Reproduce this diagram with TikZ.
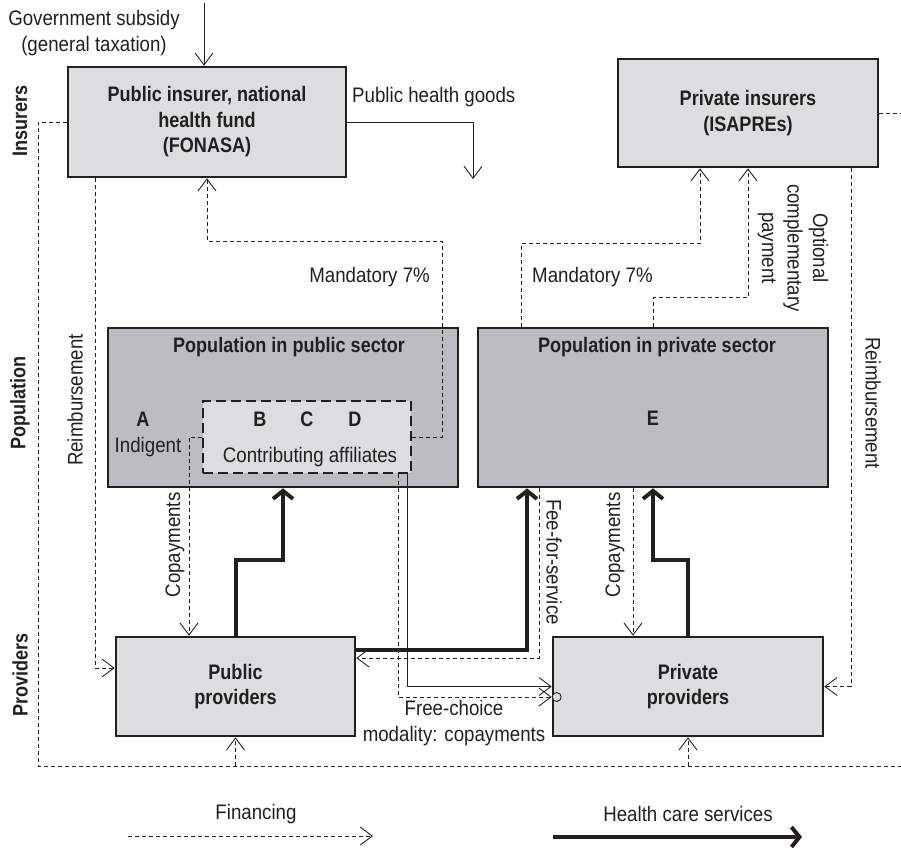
\documentclass[tikz,border=0pt]{standalone}
\usepackage{fontspec}
\setmainfont{Liberation Sans}[FakeStretch=0.89,BoldFeatures={FakeStretch=0.86}]
\usetikzlibrary{arrows.meta}
\definecolor{ink}{HTML}{231F20}
\definecolor{lightg}{HTML}{DCDDDF}
\definecolor{darkg}{HTML}{BCBDC0}
\newcommand\dfont{\fontsize{21pt}{25.5pt}\selectfont}
\begin{document}
\begin{tikzpicture}[x=1pt,y=-1pt,
  every node/.style={font=\dfont, text=ink, inner sep=0pt},
  box/.style={draw=ink, line width=2.6pt, fill=lightg, align=center, font=\dfont\bfseries},
  popbox/.style={box, fill=darkg},
  innerbox/.style={draw=ink, line width=2.6pt, fill=lightg, dash pattern=on 10pt off 5pt},
  fin/.style={draw=ink, line width=0.9pt, dash pattern=on 4pt off 3pt},
  finarr/.style={fin, -{Straight Barb[length=12pt,width=18pt,line width=0.9pt]}},
  thinarr/.style={draw=ink, line width=0.9pt, -{Straight Barb[length=12pt,width=18pt,line width=0.9pt]}},
  hcs/.style={draw=ink, line width=4pt, -{Straight Barb[length=8pt,width=20pt,line width=4pt]}},
  side/.style={rotate=90, font=\dfont\bfseries},
  bl/.style={font=\dfont\bfseries}]
\useasboundingbox (0,0) rectangle (901,847);

% boxes
\node[box, minimum width=278pt, minimum height=110pt] (pubins) at (207,122) {Public insurer, national\\health fund\\(FONASA)};
\node[box, minimum width=260pt, minimum height=108pt] (privins) at (748,113) {Private insurers\\(ISAPREs)};
\node[popbox, minimum width=350pt, minimum height=159pt] (poppub) at (283,407.5) {};
\node[popbox, minimum width=350pt, minimum height=159pt] (poppriv) at (653,407.5) {};
\node[innerbox, minimum width=208pt, minimum height=72pt] (inner) at (307,437) {};
\node[box, minimum width=239pt, minimum height=99pt] (pubprov) at (235.5,686.5) {Public\\providers};
\node[box, minimum width=270pt, minimum height=99pt] (privprov) at (688,686.5) {Private\\providers};

% texts inside population boxes
\node[bl] (poppubt) at (289,347) {Population in public sector};
\node[bl] (popprivt) at (657,347) {Population in private sector};
\node[bl] (la) at (143,419) {A};
\node (indig) at (148,447) {Indigent};
\node[bl] (lb) at (260,419) {B};
\node[bl] (lc) at (307,419) {C};
\node[bl] (ld) at (355,419) {D};
\node (contrib) at (310,457) {Contributing affiliates};
\node[bl] (le) at (653,418) {E};

% side labels
\node[side] (sins) at (20,121) {Insurers};
\node[side] (spop) at (20,403) {Population};
\node[side] (sprov) at (20,675) {Providers};

% other labels
\node[align=center] (gov) at (94,33) {Government subsidy\\(general taxation)};
\node[anchor=west] (phg) at (352,97) {Public health goods};
\node[anchor=east] (m7a) at (430,277) {Mandatory 7\%};
\node[anchor=west] (m7b) at (532,277) {Mandatory 7\%};
\node[rotate=-90, align=center] (opt) at (793,248) {Optional\\complementary\\payment};
\node[rotate=90] (reimbl) at (75,400) {Reimbursement};
\node[rotate=-90] (reimbr) at (873,403) {Reimbursement};
\node[rotate=90] (copl) at (175,545) {Copayments};
\node[rotate=90] (copr) at (615,545) {Copayments};
\node[rotate=-90] (ffs) at (554,562) {Fee-for-service};
\node[align=center] (fcm) at (454,723) {Free-choice\\modality: copayments};

% coordinates
\coordinate (gtop) at (204,3);
\coordinate (pg) at (473,179);
\coordinate (rend) at (901,766);
\coordinate (rtop) at (901,113);

% government subsidy and public goods
\draw[thinarr] (gtop) -- (gtop |- pubins.north);
\draw[thinarr] (pubins.east) -| (pg);

% outer financing loop
\draw[fin] (pubins.west) -- (38,122) |- (rend);
\draw[fin] (privins.east) -- (rtop);
\draw[finarr] (pubprov.south |- rend) -- (pubprov.south);
\draw[finarr] (privprov.south |- rend) -- (privprov.south);

% reimbursements
\draw[finarr] ([xshift=-112pt]pubins.south) |- ([yshift=18.5pt]pubprov.west);
\draw[finarr] ([xshift=103pt]privins.south) |- (privprov.east);

% mandatory contributions
\draw[finarr] (inner.east) -| (442,241) -| (pubins.south);
\draw[finarr] ([xshift=-132pt]poppriv.north) -- ++(0,-83) -| ([xshift=-48pt]privins.south);
\draw[finarr] (poppriv.north) -- ++(0,-29) -| (privins.south);

% copayments
\draw[finarr] (inner.west) -| ([xshift=-46.5pt]pubprov.north);
\draw[finarr] ([xshift=-20pt]poppriv.south) -- ([xshift=-20pt]poppriv.south |- privprov.north);

% health care services
\draw[hcs] (pubprov.north) -- ++(0,-76) -| (poppub.south);
\draw[hcs] (privprov.north) -- ++(0,-76) -| (poppriv.south);
\draw[hcs] ([yshift=36.5pt]pubprov.east) -| ([xshift=-126pt]poppriv.south);

% fee-for-service
\draw[finarr] ([xshift=-114pt]poppriv.south) |- ([yshift=28.5pt]pubprov.east);

% free choice modality
\draw[thinarr] ([xshift=100pt]inner.south) |- (privprov.west);
\draw[finarr] ([xshift=91pt]inner.south) |- ([yshift=-10.5pt]privprov.west);
\node[circle, draw=ink, line width=0.9pt, fill=lightg, minimum size=9pt] (circ) at ([xshift=5pt,yshift=-10.5pt]privprov.west) {};

% legend
\node (lfin) at (256,814) {Financing};
\node (lhcs) at (688,814) {Health care services};
\coordinate (f1) at (128,836);
\coordinate (f2) at (373,836);
\coordinate (h1) at (553,837);
\coordinate (h2) at (802,837);
\draw[finarr] (f1) -- (f2);
\draw[hcs] (h1) -- (h2);
\end{tikzpicture}
\end{document}
